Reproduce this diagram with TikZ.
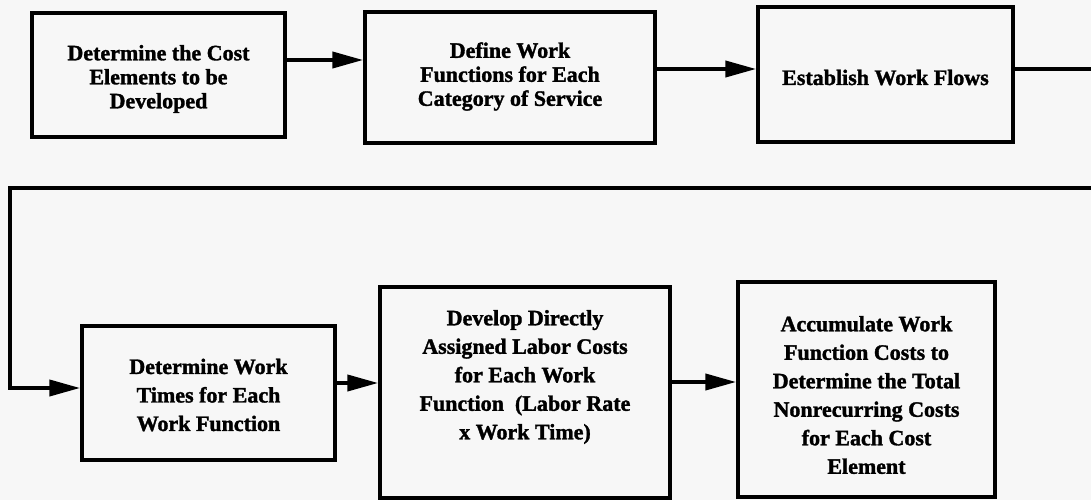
\documentclass[tikz,border=0pt]{standalone}
\usepackage{fontspec}
\setmainfont{Liberation Serif}[BoldFeatures={FakeBold=1.5}]
\usetikzlibrary{arrows.meta}
\begin{document}
\begin{tikzpicture}[x=1pt,y=-1pt,
  stepbox/.style={draw=black,line width=3.5pt,rectangle,inner sep=0pt},
  steptext/.style={align=center,text=black,inner sep=0pt,
    font=\fontsize{22}{24}\selectfont\bfseries},
  steptextwide/.style={steptext,font=\fontsize{22}{28.5}\selectfont\bfseries},
  conn/.style={draw=black,line width=4pt,
    -{Triangle[length=31pt,width=16pt]}}]
  % page area
  \fill[black!3] (0,0) rectangle (1091,500);
  \clip (0,0) rectangle (1091,500);
  \useasboundingbox (0,0) rectangle (1091,500);

  % first row of steps
  \node[stepbox,minimum width=253pt,minimum height=124pt] (b1) at (158.5,75) {};
  \node[stepbox,minimum width=290pt,minimum height=131pt] (b2) at (510,77.5) {};
  \node[stepbox,minimum width=255pt,minimum height=135pt] (b3) at (885.5,74.5) {};
  \node[steptext] (t1) at ([yshift=-4pt]b1.center)
    {Determine the Cost\\Elements to be\\Developed};
  \node[steptext] (t2) at ([yshift=1pt]b2.center)
    {Define Work\\Functions for Each\\Category of Service};
  \node[steptext] (t3) at ([yshift=-3pt]b3.center)
    {Establish Work Flows};

  % second row of steps
  \node[stepbox,minimum width=253pt,minimum height=134pt] (b4) at (208.5,393) {};
  \node[stepbox,minimum width=290pt,minimum height=211pt] (b5) at (525,392.5) {};
  \node[stepbox,minimum width=257pt,minimum height=215pt] (b6) at (866.5,389.5) {};
  \node[steptextwide] (t4) at ([yshift=-2pt]b4.center)
    {Determine Work\\Times for Each\\Work Function};
  \node[steptextwide] (t5) at ([yshift=15.5pt]b5.center)
    {Develop Directly\\Assigned Labor Costs\\for Each Work\\Function\ \ (Labor Rate\\x Work Time)};
  \node[steptextwide] (t6) at ([yshift=-5.5pt]b6.center)
    {Accumulate Work\\Function Costs to\\Determine the Total\\Nonrecurring Costs\\for Each Cost\\Element};

  % return path from the end of the first row to the second row
  \coordinate (outR) at (1112,69);
  \coordinate (downR) at (1112,188);
  \coordinate (leftL) at (10,188);

  % connectors
  \draw[conn] (b1.east |- 0,60) -- (b2.west |- 0,60);
  \draw[conn] (b2.east |- 0,69) -- (b3.west |- 0,69);
  \draw[conn,line join=miter] (b3.east |- outR) -- (outR) -- (downR) -- (leftL)
    |- (b4.west |- 0,388);
  \draw[conn] (b4.east |- 0,383) -- (b5.west |- 0,383);
  \draw[conn] (b5.east |- 0,382) -- (b6.west |- 0,382);
\end{tikzpicture}
\end{document}
